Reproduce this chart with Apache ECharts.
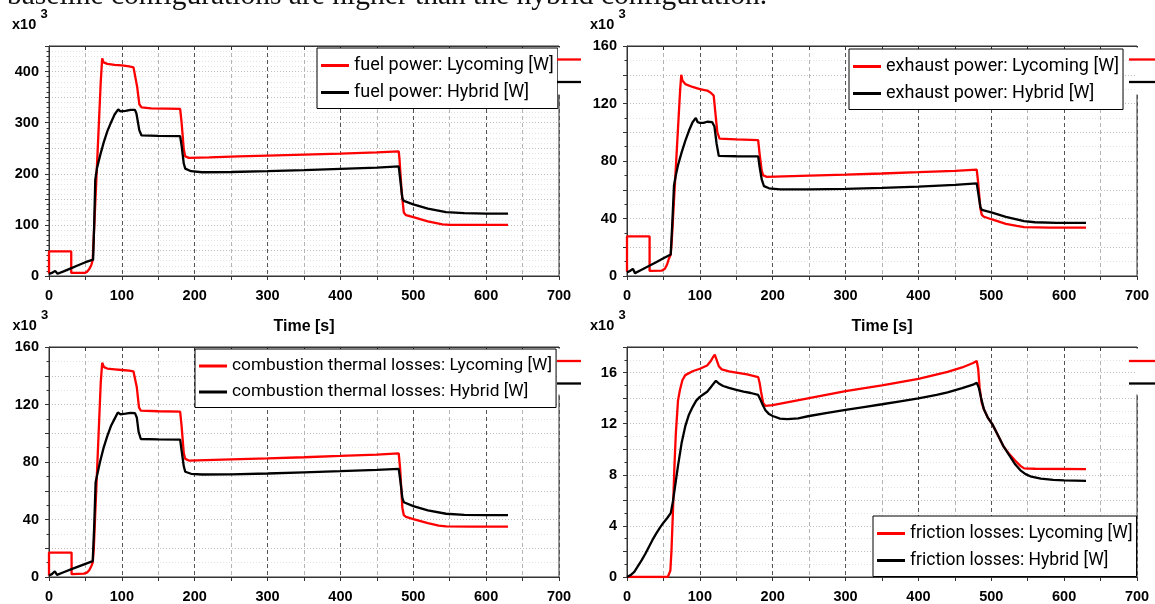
<!DOCTYPE html>
<html>
<head>
<meta charset="utf-8">
<script src="https://cdn.jsdelivr.net/npm/echarts@6/dist/echarts.min.js"></script>
<style>
  html, body { margin: 0; padding: 0; background: #ffffff; }
  #chart { width: 1155px; height: 604px; }
</style>
</head>
<body>
<div id="chart"></div>
<script>
// Time axis tick labels [s]
const timeTickLabels = [0, 100, 200, 300, 400, 500, 600, 700];
// Power axis tick labels (x10^3 W)
const fuelTickLabels = [0, 100, 200, 300, 400];
const exhaustTickLabels = [0, 40, 80, 120, 160];
const combustionTickLabels = [0, 40, 80, 120, 160];
const frictionTickLabels = [0, 4, 8, 12, 16];

const sentence = 'baseline configurations are higher than the hybrid configuration.';

// [time s, power x10^3 W]
const fuelLycoming = [
  [0, 5], [0, 48], [30.5, 48], [30.5, 6], [49, 6], [52, 8], [55, 13], [58, 21], [60, 31],
  [62, 94], [65, 189], [68, 284], [71, 379], [73, 426], [75, 418], [80, 415], [90, 413],
  [100, 412], [110, 410], [116, 408], [118, 405], [121, 370], [124, 336], [127, 330],
  [140, 328], [160, 327.5], [180, 327], [182, 300], [185, 248], [187, 234], [192, 231],
  [220, 232], [260, 234], [300, 235.5], [350, 237.5], [400, 239.5], [450, 242], [480, 244],
  [481, 230], [484, 165], [487, 124], [490, 119], [500, 115], [520, 107], [540, 101],
  [550, 100], [590, 100], [630, 100]
];
const fuelHybrid = [
  [0, 4], [4, 6], [8.5, 10], [11.7, 4.5], [20, 9], [30, 15], [40, 21], [50, 27], [60.5, 32],
  [62, 100], [63.5, 188], [66, 212], [70, 235], [75, 261], [80, 283], [85, 300], [90, 316],
  [95, 326], [98, 322], [105, 323], [112, 325], [118, 325], [120, 318], [124, 285], [127, 275],
  [150, 274], [180, 273.5], [182, 255], [185, 220], [187, 210], [195, 205], [210, 203],
  [250, 203.5], [300, 205], [350, 207], [400, 209.5], [450, 212], [480, 214.5], [482, 190],
  [485, 152], [487, 147], [500, 140], [520, 132], [545, 125], [570, 123], [600, 122], [630, 122]
];

const exhaustLycoming = [
  [0, 3], [0, 27.5], [31, 27.5], [31, 3.5], [48, 3.8], [52, 5], [55, 8], [57.5, 12], [60, 15],
  [61.5, 25], [73, 130], [74.5, 140], [76, 136], [80, 133.5], [90, 131.5], [100, 130],
  [110, 129], [115, 127.5], [119, 125.5], [121, 115], [124, 100], [127, 95.5], [150, 95],
  [180, 94.5], [182, 85], [185, 73], [187, 70], [192, 69], [250, 69.8], [300, 70.5],
  [350, 71.3], [400, 72.2], [450, 73.2], [480, 74], [482, 65], [485, 47], [487, 42.5],
  [490, 41.2], [500, 39.5], [520, 36.3], [535, 34.8], [545, 34], [580, 33.6], [630, 33.6]
];
const exhaustHybrid = [
  [0, 2.5], [4, 3.5], [8, 5], [11, 2], [20, 4.3], [30, 6.9], [40, 9.6], [50, 12.3], [60, 15],
  [62, 35], [64.5, 63], [67, 70], [70, 77], [75, 86], [80, 94], [85, 101], [90, 107],
  [94.5, 110], [97, 107], [100, 106.5], [105, 106.5], [110, 107.3], [117, 107], [120, 104],
  [123, 92], [126, 83.5], [150, 83.3], [180, 83.2], [182, 76], [185, 67], [188, 62.5],
  [195, 61], [210, 60.2], [250, 60.2], [300, 60.6], [350, 61.3], [400, 62.2], [450, 63.4],
  [480, 64.4], [482, 58], [485, 48], [487, 46], [500, 44.2], [520, 41.2], [545, 38.2],
  [560, 37.4], [590, 37], [630, 37]
];

const combustionLycoming = [
  [0, 1], [0, 17], [31, 17], [31, 2], [48, 2.3], [52, 3], [55, 4.5], [58, 7.5], [60, 10],
  [61.5, 20], [71, 135], [73, 149], [75.5, 146], [80, 145], [90, 144.5], [100, 144],
  [110, 143.5], [116, 143], [118, 142], [120.5, 132], [123.5, 118], [126, 115.7], [150, 115.3],
  [180, 115], [182, 105], [185, 86], [187, 82.2], [192, 81], [250, 81.8], [300, 82.5],
  [350, 83.3], [400, 84.2], [450, 85.2], [480, 86], [482, 75], [485, 48], [487, 43],
  [490, 41.8], [500, 40.3], [520, 37.5], [535, 35.8], [545, 35.2], [580, 35], [630, 35]
];
const combustionHybrid = [
  [0, 1], [4, 2], [8, 4], [11, 1.5], [20, 3.3], [30, 5.3], [40, 7.2], [50, 9.1], [60, 11],
  [62, 35], [64, 66], [67, 73], [70, 80], [75, 90], [80, 98], [85, 105], [90, 110],
  [94.5, 114.5], [98, 113.2], [105, 113.6], [112, 114.2], [118, 114], [120.5, 111], [123, 101],
  [126, 96], [150, 95.7], [180, 95.5], [182, 88], [185, 77], [187, 73.2], [195, 71.8],
  [210, 71.3], [250, 71.4], [300, 72], [350, 72.8], [400, 73.6], [450, 74.5], [480, 75.2],
  [482, 68], [485, 55], [487, 52], [500, 49.3], [520, 46.3], [545, 44], [570, 43.2],
  [600, 43], [630, 43]
];

const frictionLycoming = [
  [0, 0], [56, 0], [58, 0.1], [59.5, 0.5], [61, 2], [63, 5], [65, 8.5], [67, 11.2], [70, 13.8],
  [72.5, 14.6], [76, 15.4], [80, 15.8], [90, 16.1], [100, 16.3], [110, 16.55], [115, 16.9],
  [118, 17.2], [120.5, 17.4], [123, 17], [126, 16.5], [130, 16.25], [140, 16.1], [150, 16],
  [165, 15.85], [180, 15.65], [182, 15.2], [184, 14.5], [187, 13.6], [190, 13.4], [200, 13.45],
  [250, 14], [300, 14.55], [350, 15], [400, 15.5], [440, 16.05], [460, 16.4], [475, 16.75],
  [480, 16.9], [482, 16.3], [484, 14.8], [487, 13.6], [490, 13.1], [495, 12.5], [502, 11.9],
  [510, 11], [517, 10.2], [525, 9.6], [533, 9.1], [540, 8.7], [545, 8.5], [560, 8.47],
  [630, 8.45]
];
const frictionHybrid = [
  [0, 0], [5, 0.15], [10, 0.4], [15, 0.85], [20, 1.3], [25, 1.8], [30, 2.35], [35, 2.9],
  [40, 3.4], [45, 3.85], [50, 4.25], [55, 4.6], [60, 5], [63, 5.9], [66, 7.1],
  [70, 8.7], [75, 10.5], [80, 11.8], [85, 12.7], [90, 13.3], [95, 13.8], [100, 14.1],
  [105, 14.3], [110, 14.5], [115, 14.85], [119, 15.15], [122, 15.35], [126, 15.15],
  [132, 14.95], [140, 14.8], [150, 14.65], [160, 14.5], [170, 14.4], [180, 14.25],
  [183, 13.9], [186, 13.5], [190, 13.05], [195, 12.75], [200, 12.6], [210, 12.4],
  [220, 12.35], [235, 12.42], [250, 12.6], [275, 12.85], [300, 13.08], [325, 13.3],
  [350, 13.52], [375, 13.75], [400, 13.98], [425, 14.25], [440, 14.45], [460, 14.78],
  [475, 15.05], [480, 15.2], [483, 14.8], [486, 14], [490, 13.1], [495, 12.5], [502, 11.9],
  [510, 11], [517, 10.2], [525, 9.5], [533, 8.8], [540, 8.35], [547, 8.05], [555, 7.85],
  [568, 7.7], [585, 7.6], [600, 7.56], [630, 7.53]
];

const RED = '#ff0000';
const BLACK = '#000000';
const AXIS_FONT = 'Liberation Sans';
const LEGEND_FONT = 'Roboto';

// one entry per plot panel
const panels = [
  {
    grid: { left: 49, top: 46, width: 510, height: 230 },
    yMax: 450, yStep: 50, yMinor: 5, yLabels: fuelTickLabels, showName: true,
    names: ['fuel power: Lycoming [W]', 'fuel power: Hybrid [W]'],
    data: [fuelLycoming, fuelHybrid],
    legend: { left: 317, top: 48, fontSize: 18 }
  },
  {
    grid: { left: 627, top: 46, width: 510, height: 230 },
    yMax: 160, yStep: 20, yMinor: 2, yLabels: exhaustTickLabels, showName: true,
    names: ['exhaust power: Lycoming [W]', 'exhaust power: Hybrid [W]'],
    data: [exhaustLycoming, exhaustHybrid],
    legend: { left: 849, top: 49, fontSize: 18 }
  },
  {
    grid: { left: 49, top: 347, width: 510, height: 231 },
    yMax: 160, yStep: 20, yMinor: 2, yLabels: combustionTickLabels, showName: false,
    names: ['combustion thermal losses: Lycoming [W]', 'combustion thermal losses: Hybrid [W]'],
    data: [combustionLycoming, combustionHybrid],
    legend: { left: 195, top: 349, fontSize: 17.3 }
  },
  {
    grid: { left: 627, top: 347, width: 510, height: 231 },
    yMax: 18, yStep: 2, yMinor: 2, yLabels: frictionTickLabels, showName: false,
    names: ['friction losses: Lycoming [W]', 'friction losses: Hybrid [W]'],
    data: [frictionLycoming, frictionHybrid],
    legend: { left: 873, top: 516, fontSize: 17.5 }
  }
];

const grids = [], xAxes = [], yAxes = [], series = [], legends = [];

panels.forEach((p, i) => {
  grids.push(Object.assign({ show: true, borderColor: '#333', borderWidth: 1, backgroundColor: '#fff' }, p.grid));

  xAxes.push({
    type: 'value', gridIndex: i, min: 0, max: 700, interval: 50, position: 'bottom',
    name: p.showName ? 'Time [s]' : '', nameLocation: 'middle', nameGap: 43,
    nameTextStyle: { fontFamily: AXIS_FONT, fontWeight: 'bold', fontSize: 16, color: '#000' },
    axisLine: { show: true, lineStyle: { color: '#333', width: 1 } },
    axisTick: { show: true, inside: false, length: 4, lineStyle: { color: '#333' } },
    axisLabel: {
      margin: 12, fontFamily: AXIS_FONT, fontWeight: 'bold', fontSize: 14.5, color: '#000',
      formatter: v => timeTickLabels.includes(v) ? String(v) : ''
    },
    splitLine: { show: true, lineStyle: { color: ['#555555', '#b4b4b4'], type: [4, 3], width: 1 } }
  });
  // top frame axis carrying the inward tick marks
  xAxes.push({
    type: 'value', gridIndex: i, min: 0, max: 700, interval: 50, position: 'top',
    axisLine: { show: true, lineStyle: { color: '#333', width: 1 } },
    axisTick: { show: true, inside: true, length: 4, lineStyle: { color: '#333' } },
    axisLabel: { show: false }, splitLine: { show: false }
  });

  yAxes.push({
    type: 'value', gridIndex: i, min: 0, max: p.yMax, interval: p.yStep,
    axisLine: { show: true, lineStyle: { color: '#333', width: 1 } },
    axisTick: { show: true, inside: false, length: 4, lineStyle: { color: '#333' } },
    minorTick: { show: true, splitNumber: p.yMinor, length: 2.5, lineStyle: { color: '#333' } },
    axisLabel: {
      margin: 10, fontFamily: AXIS_FONT, fontWeight: 'bold', fontSize: 14.5, color: '#000',
      formatter: v => p.yLabels.includes(v) ? String(v) : ''
    },
    splitLine: { show: true, lineStyle: { color: '#bdbdbd', type: [1, 2], width: 1 } },
    minorSplitLine: { show: true, lineStyle: { color: '#e2e2e2', type: [1, 2], width: 1 } }
  });

  [RED, BLACK].forEach((c, k) => {
    series.push({
      type: 'line', name: p.names[k], xAxisIndex: i * 2, yAxisIndex: i,
      data: p.data[k], showSymbol: false, symbol: 'none', color: c,
      lineStyle: { color: c, width: 2.3 }, z: 3 + k, animation: false
    });
  });

  legends.push({
    data: p.names, orient: 'vertical', left: p.legend.left, top: p.legend.top,
    icon: 'rect', itemWidth: 28, itemHeight: 3, itemGap: 9,
    padding: [8.5, 4, 7, 4], backgroundColor: '#fff', borderColor: '#000', borderWidth: 1,
    borderRadius: 0, selectedMode: false, z: 10,
    textStyle: { fontFamily: LEGEND_FONT, fontSize: p.legend.fontSize, color: '#000' }
  });
});

// multiplier labels above each power axis
function multiplier(x, y) {
  return [
    { type: 'text', x: x, y: y, z: 50,
      style: { text: 'x10', font: 'bold 14.5px "Liberation Sans"', fill: '#000', align: 'left', verticalAlign: 'middle' } },
    { type: 'text', x: x + 28.5, y: y - 10.5, z: 50,
      style: { text: '3', font: 'bold 13px "Liberation Sans"', fill: '#000', align: 'left', verticalAlign: 'middle' } }
  ];
}
function hline(x1, x2, y, color) {
  return { type: 'line', z: 50, shape: { x1: x1, y1: y, x2: x2, y2: y }, style: { stroke: color, lineWidth: 2.3 } };
}
function mask(x, y, w, h) {
  return { type: 'rect', z: 40, shape: { x: x, y: y, width: w, height: h }, style: { fill: '#fff' } };
}

const graphics = [
  { type: 'text', x: 7, y: -4, z: 50,
    style: { text: sentence, font: '29.5px "Liberation Serif"', fill: '#111', align: 'left', verticalAlign: 'middle' } },
  ...multiplier(12, 25), ...multiplier(590, 25), ...multiplier(12.5, 326), ...multiplier(590, 326),
  mask(558, 47.5, 4, 47), mask(1136, 47.5, 4, 47), mask(558, 348.5, 4, 46), mask(1136, 348.5, 4, 46),
  hline(557, 581, 59.5, RED), hline(557, 581, 82, BLACK),
  hline(1129, 1155, 59.5, RED), hline(1129, 1155, 82, BLACK),
  hline(557, 581, 361, RED), hline(557, 581, 383.5, BLACK),
  hline(1129, 1155, 361, RED), hline(1129, 1155, 383.5, BLACK)
];

const chart = echarts.init(document.getElementById('chart'), null, { renderer: 'canvas' });
chart.setOption({
  animation: false,
  backgroundColor: '#fff',
  grid: grids,
  xAxis: xAxes,
  yAxis: yAxes,
  legend: legends,
  series: series,
  graphic: graphics
});
</script>
</body>
</html>
